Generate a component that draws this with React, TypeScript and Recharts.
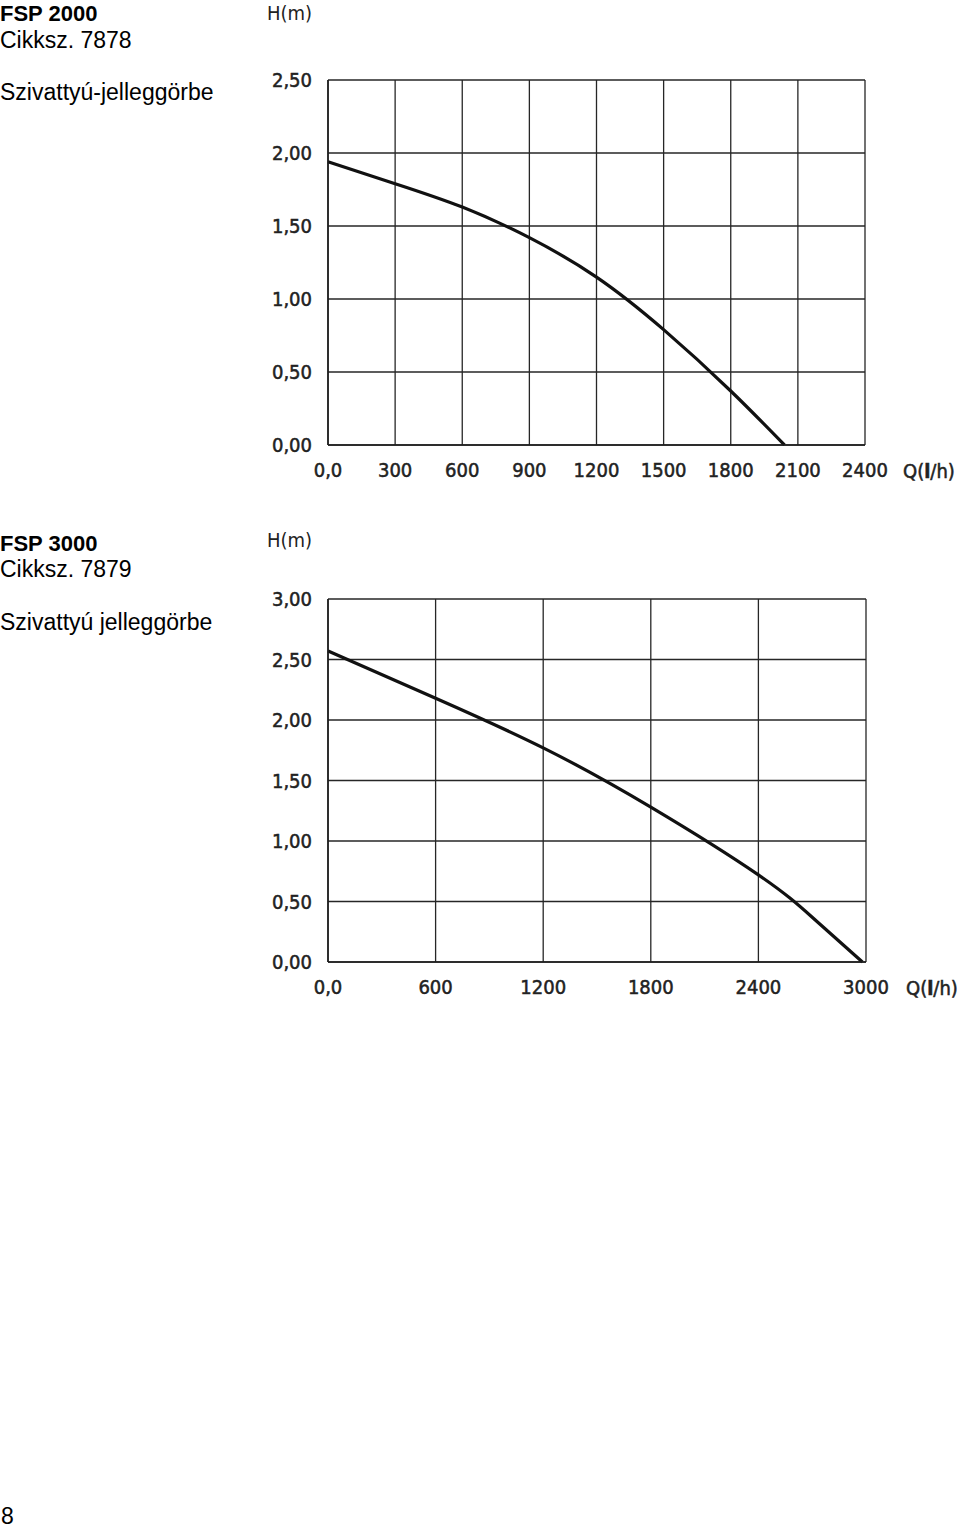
import React from "react";
import { LineChart, Line, XAxis, YAxis, CartesianGrid } from "recharts";

// FSP 2000 (Cikksz. 7878)
const q2000 = [0, 300, 600, 900, 1200, 1500, 1800, 2040];
const h2000 = [1.94, 1.79, 1.63, 1.42, 1.15, 0.79, 0.37, 0];
const xTicks2000 = [0, 300, 600, 900, 1200, 1500, 1800, 2100, 2400];
const yTicks2000 = [0, 0.5, 1.0, 1.5, 2.0, 2.5];

// FSP 3000 (Cikksz. 7879)
const q3000 = [0, 600, 1200, 1800, 2400, 2700, 2980];
const h3000 = [2.57, 2.18, 1.77, 1.28, 0.72, 0.37, 0];
const xTicks3000 = [0, 600, 1200, 1800, 2400, 3000];
const yTicks3000 = [0, 0.5, 1.0, 1.5, 2.0, 2.5, 3.0];

const data2000 = q2000.map((q, i) => ({ q, h: h2000[i] }));
const data3000 = q3000.map((q, i) => ({ q, h: h3000[i] }));

const condFont = "'DejaVu Sans Condensed', 'Liberation Sans Narrow', sans-serif";
const textFont = "'Liberation Sans', Arial, sans-serif";

const tickStyle = {
  fontFamily: condFont,
  fontSize: 20,
  fill: "#222",
  stroke: "#222",
  strokeWidth: 0.5,
};

const fmtY = (v: number) => v.toFixed(2).replace(".", ",");
const fmtX = (v: number) => (v === 0 ? "0,0" : String(v));

function PumpChart(props: {
  data: { q: number; h: number }[];
  xTicks: number[];
  yTicks: number[];
  top: number;
  marginTop: number;
  marginBottom: number;
  marginRight: number;
}) {
  const { data, xTicks, yTicks, top, marginTop, marginBottom, marginRight } = props;
  return (
    <div style={{ position: "absolute", left: 0, top, width: 960, height: 520 }}>
      <LineChart
        width={960}
        height={520}
        data={data}
        margin={{ top: marginTop, right: marginRight, bottom: marginBottom, left: 268 }}
      >
        <CartesianGrid stroke="#262626" strokeWidth={1.3} />
        <XAxis
          dataKey="q"
          type="number"
          domain={[xTicks[0], xTicks[xTicks.length - 1]]}
          ticks={xTicks}
          interval={0}
          tickFormatter={fmtX}
          tickLine={false}
          tickSize={6}
          tickMargin={12}
          axisLine={{ stroke: "#1e1e1e", strokeWidth: 1.6 }}
          height={40}
          tick={tickStyle}
        />
        <YAxis
          type="number"
          domain={[yTicks[0], yTicks[yTicks.length - 1]]}
          ticks={yTicks}
          interval={0}
          tickFormatter={fmtY}
          tickLine={false}
          tickSize={6}
          tickMargin={10}
          axisLine={{ stroke: "#1e1e1e", strokeWidth: 1.6 }}
          width={60}
          tick={tickStyle}
        />
        <Line
          type="natural"
          dataKey="h"
          stroke="#111"
          strokeWidth={3.2}
          dot={false}
          activeDot={false}
          isAnimationActive={false}
        />
      </LineChart>
    </div>
  );
}

export default function App() {
  return (
    <div
      style={{
        position: "absolute",
        left: 0,
        top: 0,
        width: 960,
        height: 1528,
        background: "#fff",
        overflow: "hidden",
      }}
    >
      <PumpChart
        data={data2000}
        xTicks={xTicks2000}
        yTicks={yTicks2000}
        top={0}
        marginTop={80}
        marginBottom={35}
        marginRight={95}
      />
      <PumpChart
        data={data3000}
        xTicks={xTicks3000}
        yTicks={yTicks3000}
        top={520}
        marginTop={79}
        marginBottom={38}
        marginRight={94}
      />
      <svg
        width={960}
        height={1528}
        style={{ position: "absolute", left: 0, top: 0, pointerEvents: "none" }}
      >
        <g fontFamily={textFont} fontSize={23} fill="#000">
          <text x={0} y={21} fontWeight="bold" fontSize={22}>FSP 2000</text>
          <text x={0} y={48}>Cikksz. 7878</text>
          <text x={0} y={100}>Szivattyú-jelleggörbe</text>
          <text x={0} y={551} fontWeight="bold" fontSize={22}>FSP 3000</text>
          <text x={0} y={577}>Cikksz. 7879</text>
          <text x={0} y={630}>Szivattyú jelleggörbe</text>
          <text x={1} y={1524}>8</text>
        </g>
        <g fontFamily={condFont} fontSize={20} fill="#222">
          <text x={312} y={20} textAnchor="end">H(m)</text>
          <text x={903} y={478} stroke="#222" strokeWidth={0.5}>
            Q(<tspan fontWeight="bold">l</tspan>/h)
          </text>
          <text x={312} y={547} textAnchor="end">H(m)</text>
          <text x={906} y={995} stroke="#222" strokeWidth={0.5}>
            Q(<tspan fontWeight="bold">l</tspan>/h)
          </text>
        </g>
      </svg>
    </div>
  );
}
